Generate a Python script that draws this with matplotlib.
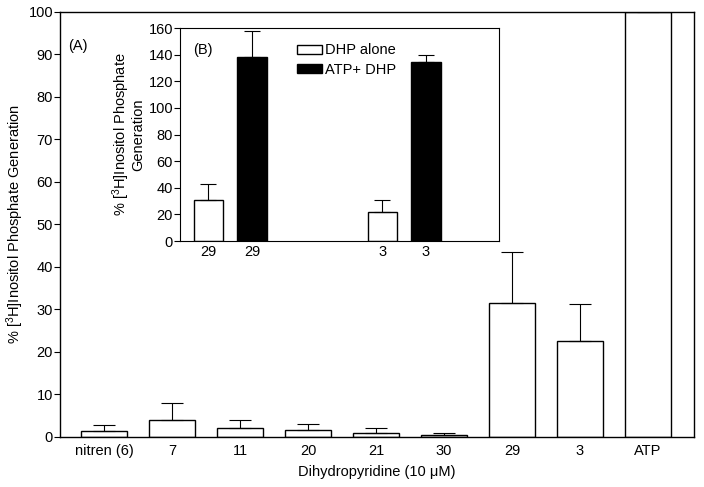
import numpy as np
import matplotlib.pyplot as plt

plt.rcParams["font.family"] = ["Liberation Sans", "DejaVu Sans"]
plt.rcParams["mathtext.fontset"] = "custom"
plt.rcParams["mathtext.rm"] = "Liberation Sans"
plt.rcParams["mathtext.it"] = "Liberation Sans:italic"
plt.rcParams["font.size"] = 10

# Panel A
dhp_labels = ["nitren (6)", "7", "11", "20", "21", "30", "29", "3", "ATP"]
dhp_values = [1.5, 3.9, 2.0, 1.6, 1.0, 0.5, 31.6, 22.5, 100]
dhp_errors = [1.4, 4.0, 2.0, 1.5, 1.0, 0.5, 11.9, 8.7, 0]

# Panel B (inset)
inset_labels = ["29", "29", "3", "3"]
inset_groups = ["DHP alone", "ATP+ DHP", "DHP alone", "ATP+ DHP"]
inset_values = [30.5, 138.5, 22.0, 134.5]
inset_errors = [12.0, 19.0, 8.5, 5.0]


def main():
    fig = plt.figure(figsize=(7.04, 4.87), dpi=100)
    ax = fig.add_axes([0.0852, 0.1027, 0.9006, 0.8727])

    x = np.arange(len(dhp_labels))
    ax.bar(x, dhp_values, width=0.68, color="white", edgecolor="black", linewidth=1.0)
    errs = [e if e > 0 else np.nan for e in dhp_errors]
    ax.errorbar(x, dhp_values, yerr=[np.zeros(len(x)), errs], fmt="none",
                ecolor="black", elinewidth=0.8, capsize=8, capthick=0.8)
    ax.set_xlim(-0.65, 8.68)
    ax.set_ylim(0, 100)
    ax.set_yticks(range(0, 101, 10))
    ax.set_xticks(x)
    ax.set_xticklabels(dhp_labels, fontsize=10.5)
    ax.tick_params(axis="x", length=0, pad=5)
    ax.tick_params(axis="y", length=4, width=0.8, direction="out", pad=1, labelsize=10.5)
    for s in ax.spines.values():
        s.set_linewidth(1.0)
    ax.set_ylabel(r"% [$^{3}$H]Inositol Phosphate Generation", labelpad=2, fontsize=10.5)
    ax.set_xlabel("Dihydropyridine (10 \u03bcM)", labelpad=5, fontsize=10.5)
    ax.text(0.013, 0.92, "(A)", transform=ax.transAxes, ha="left", va="center", fontsize=10.5)

    # inset
    ins = fig.add_axes([0.2557, 0.5051, 0.4531, 0.4374])
    xi = [0, 1, 4, 5]
    colors = ["white" if g == "DHP alone" else "black" for g in inset_groups]
    bars = ins.bar(xi, inset_values, width=0.68, color=colors, edgecolor="black", linewidth=1.0)
    ins.errorbar(xi, inset_values, yerr=[np.zeros(4), inset_errors], fmt="none",
                 ecolor="black", elinewidth=0.8, capsize=6, capthick=0.8)
    ins.set_xlim(-0.655, 6.68)
    ins.set_ylim(0, 160)
    ins.set_yticks(range(0, 161, 20))
    ins.set_xticks(xi)
    ins.set_xticklabels(inset_labels, fontsize=10.5)
    ins.tick_params(axis="x", length=0, pad=3)
    ins.tick_params(axis="y", length=4, width=0.8, direction="out", pad=1, labelsize=10.5)
    ins.set_ylabel("% [$^{3}$H]Inositol Phosphate\nGeneration", labelpad=2,
                   linespacing=0.95, fontsize=10.5)
    ins.text(0.04, 0.897, "(B)", transform=ins.transAxes, ha="left", va="center", fontsize=10.5)
    ins.legend([bars[0], bars[1]], ["DHP alone", "ATP+ DHP"], loc="upper left",
               bbox_to_anchor=(0.35, 0.955), frameon=False, handlelength=1.7,
               handleheight=0.55, handletextpad=0.2, labelspacing=0.35,
               borderaxespad=0, fontsize=10.5)

    plt.savefig("out.png", dpi=100)


if __name__ == "__main__":
    main()
